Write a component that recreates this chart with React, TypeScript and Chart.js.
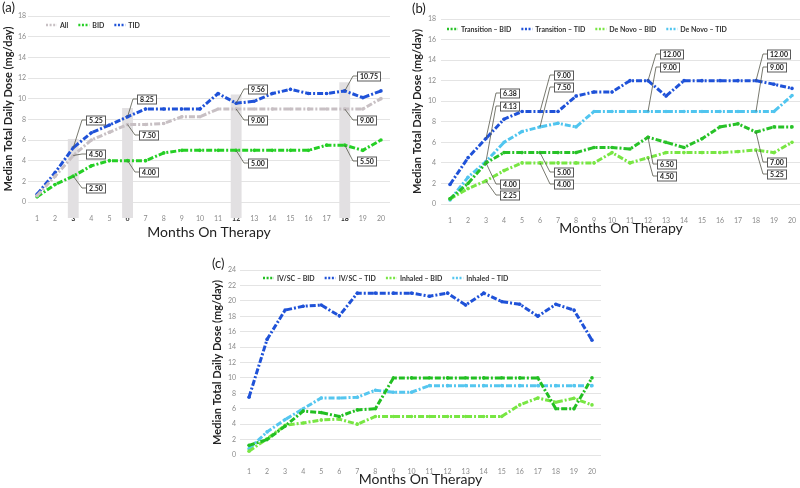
import React, { useEffect, useRef } from 'react';
import { Chart, registerables } from 'chart.js';
Chart.register(...registerables);

// ---------- shared ----------
const months = ['1','2','3','4','5','6','7','8','9','10','11','12','13','14','15','16','17','18','19','20'];
const yTitle = 'Median Total Daily Dose (mg/day)';
const xTitle = 'Months On Therapy';

// ---------- panel (a) ----------
const aLabels = ['All', 'BID', 'TID'];
const aAll = [0.6, 2.5, 4.5, 6.0, 6.75, 7.5, 7.5, 7.6, 8.25, 8.25, 9, 9, 9, 9, 9, 9, 9, 9, 9, 10];
const aBID = [0.5, 1.7, 2.5, 3.5, 4.0, 4.0, 4.0, 4.75, 5, 5, 5, 5, 5, 5, 5, 5, 5.5, 5.5, 5.0, 6.0];
const aTID = [0.75, 2.85, 5.25, 6.7, 7.45, 8.25, 9, 9, 9, 9, 10.5, 9.56, 9.75, 10.5, 10.9, 10.5, 10.5, 10.75, 10.1, 10.75];
const aHighlightMonths = [3, 6, 12, 18];
const aHighlightTops = [6.1, 9.1, 10.4, 11.6];

// ---------- panel (b) ----------
const bLabels = ['Transition \u2013 BID', 'Transition \u2013 TID', 'De Novo \u2013 BID', 'De Novo \u2013 TID'];
const bTransBID = [0.5, 2.0, 4.0, 5.0, 5, 5, 5, 5, 5.5, 5.5, 5.35, 6.5, 6.0, 5.5, 6.35, 7.5, 7.8, 7.0, 7.5, 7.5];
const bTransTID = [1.9, 4.5, 6.38, 8.25, 9, 9, 9, 10.5, 10.9, 10.9, 12, 12, 10.5, 12, 12, 12, 12, 12, 11.65, 11.25];
const bNovoBID = [0.5, 1.5, 2.25, 3.25, 4.0, 4, 4, 4, 4, 5.0, 4.0, 4.5, 5, 5, 5, 5, 5.1, 5.25, 5.0, 6.0];
const bNovoTID = [0.4, 2.6, 4.13, 6.0, 7.05, 7.5, 7.85, 7.5, 9, 9, 9, 9, 9, 9, 9, 9, 9, 9, 9, 10.55];

// ---------- panel (c) ----------
const cLabels = ['IV/SC \u2013 BID', 'IV/SC \u2013 TID', 'Inhaled \u2013 BID', 'Inhaled \u2013 TID'];
const cIvBID = [1.25, 2.0, 3.75, 5.7, 5.5, 5.0, 5.85, 6.0, 10, 10, 10, 10, 10, 10, 10, 10, 10, 6, 6, 10];
const cIvTID = [7.5, 15, 18.8, 19.3, 19.45, 18.05, 21, 21, 21, 21, 20.6, 21, 19.45, 21, 19.9, 19.55, 18.0, 19.55, 18.8, 14.9];
const cInhBID = [0.5, 2.1, 3.85, 4.15, 4.55, 4.65, 4.0, 5, 5, 5, 5, 5, 5, 5, 5, 6.5, 7.4, 6.85, 7.35, 6.5];
const cInhTID = [0.8, 3.0, 4.6, 6.0, 7.4, 7.4, 7.5, 8.4, 8.15, 8.15, 9, 9, 9, 9, 9, 9, 9, 9, 9, 9];

const FONT = 'Lato';
const DASH = [6, 2, 2, 2];

function lineDs(label: string, data: number[], color: string) {
  return {
    type: 'line' as const,
    label,
    data,
    borderColor: color,
    backgroundColor: color,
    borderWidth: 3,
    borderDash: DASH,
    borderCapStyle: 'butt' as const,
    tension: 0,
    pointRadius: 1.8,
    pointBorderWidth: 0,
    pointBackgroundColor: color,
    fill: false,
    order: 0,
  };
}

// callout boxes with leader lines
const calloutPlugin = {
  id: 'callouts',
  afterDraw(chart: any, _args: any, opts: any) {
    const items = (opts && opts.items) || [];
    const ctx = chart.ctx;
    ctx.save();
    ctx.font = `bold 7px ${FONT}`;
    for (const c of items) {
      const el = chart.getDatasetMeta(c.ds).data[c.i];
      if (!el) continue;
      const v = chart.data.datasets[c.ds].data[c.i];
      const txt = Number(v).toFixed(2);
      const px = el.x, py = el.y;
      const w = Math.round(ctx.measureText(txt).width + 5);
      const h = 9;
      const left = Math.round(px + c.dx);
      const cy = Math.round(py + c.dy);
      ctx.strokeStyle = '#55574a';
      ctx.lineWidth = 0.8;
      ctx.setLineDash([]);
      ctx.beginPath();
      ctx.moveTo(px, py);
      ctx.lineTo(left - 4, cy);
      ctx.lineTo(left, cy);
      ctx.stroke();
      ctx.fillStyle = '#ffffff';
      ctx.fillRect(left, cy - h / 2, w, h);
      ctx.strokeStyle = '#5a5a5a';
      ctx.lineWidth = 1;
      ctx.strokeRect(left + 0.5, cy - h / 2 + 0.5, w, h);
      ctx.fillStyle = '#222';
      ctx.textAlign = 'center';
      ctx.textBaseline = 'middle';
      ctx.fillText(txt, left + w / 2 + 0.5, cy + 1);
    }
    ctx.restore();
  },
};

// compact legend drawn inside the plot area
const miniLegendPlugin = {
  id: 'miniLegend',
  afterDraw(chart: any, _args: any, opts: any) {
    const ctx = chart.ctx;
    ctx.save();
    ctx.font = `bold 7px ${FONT}`;
    let x = chart.chartArea.left + opts.dx;
    const y = opts.y;
    chart.data.datasets.forEach((ds: any) => {
      if (ds.type === 'bar') return;
      ctx.strokeStyle = ds.borderColor;
      ctx.lineWidth = 2.5;
      ctx.setLineDash([2, 1.6]);
      ctx.beginPath();
      ctx.moveTo(x, y);
      ctx.lineTo(x + 11, y);
      ctx.stroke();
      ctx.setLineDash([]);
      x += 14;
      ctx.fillStyle = '#333';
      ctx.textAlign = 'left';
      ctx.textBaseline = 'middle';
      ctx.fillText(ds.label, x, y + 0.5);
      x += ctx.measureText(ds.label).width + 10;
    });
    ctx.restore();
  },
};

type Geo = {
  yMax: number; yW: number; yTickPad: number; yTitlePad: number;
  xH: number; xTickPad: number; xTitlePad: number;
  padTop: number; padRight: number; bold?: number[];
};

function makeOptions(g: Geo, plugins: any) {
  return {
    responsive: false,
    animation: false as const,
    layout: { padding: { top: g.padTop, right: g.padRight, left: 0, bottom: 0 } },
    plugins: {
      legend: { display: false },
      tooltip: { enabled: false },
      ...plugins,
    },
    scales: {
      x: {
        type: 'category' as const,
        offset: true,
        z: 1,
        grid: { display: false },
        border: { display: false },
        ticks: {
          autoSkip: false,
          maxRotation: 0,
          padding: g.xTickPad,
          font: (c: any) => ({
            family: FONT,
            size: 7,
            weight: g.bold && g.bold.includes(c.index + 1) ? 'bold' : 'normal',
          }),
          color: (c: any) => (g.bold && g.bold.includes(c.index + 1) ? '#333' : '#8a8a8a'),
        },
        title: {
          display: true,
          text: xTitle,
          color: '#222',
          font: { family: FONT, size: 14 },
          padding: { top: 0, bottom: g.xTitlePad },
        },
        afterFit: (s: any) => { s.height = g.xH; },
      },
      y: {
        min: 0,
        max: g.yMax,
        grid: { color: '#e4e4e4', lineWidth: 1, drawTicks: false },
        border: { display: false },
        ticks: {
          stepSize: 2,
          padding: g.yTickPad,
          font: { family: FONT, size: 7 },
          color: '#8a8a8a',
        },
        title: {
          display: true,
          text: yTitle,
          color: '#222',
          font: { family: FONT, size: 11, weight: 'bold' as const },
          padding: { top: g.yTitlePad, bottom: 0 },
        },
        afterFit: (s: any) => { s.width = g.yW; },
      },
    },
  };
}

function configA() {
  const highlight = months.map((_, i) => {
    const k = aHighlightMonths.indexOf(i + 1);
    return k >= 0 ? [-1.55, aHighlightTops[k]] : null;
  });
  return {
    type: 'line' as const,
    data: {
      labels: months,
      datasets: [
        lineDs(aLabels[0], aAll, '#c8c0c4'),
        lineDs(aLabels[1], aBID, '#25cf25'),
        lineDs(aLabels[2], aTID, '#1f52d8'),
        {
          type: 'bar' as const,
          label: 'highlight',
          data: highlight as any,
          backgroundColor: '#e2e0e2',
          borderWidth: 0,
          barPercentage: 0.6,
          categoryPercentage: 1,
          clip: false as any,
          order: 5,
        },
      ],
    },
    options: makeOptions(
      { yMax: 18, yW: 28, yTickPad: 2, yTitlePad: 1.4, xH: 43, xTickPad: 5, xTitlePad: 4.6, padTop: 16, padRight: 10, bold: aHighlightMonths },
      {
        miniLegend: { dx: 18, y: 25 },
        callouts: {
          items: [
            { ds: 2, i: 2, dx: 13, dy: -28 }, { ds: 0, i: 2, dx: 13, dy: -2 }, { ds: 1, i: 2, dx: 13, dy: 12 },
            { ds: 2, i: 5, dx: 9, dy: -18 }, { ds: 0, i: 5, dx: 11, dy: 10.5 }, { ds: 1, i: 5, dx: 11, dy: 11 },
            { ds: 2, i: 11, dx: 12, dy: -14 }, { ds: 0, i: 11, dx: 12, dy: 11 }, { ds: 1, i: 11, dx: 12, dy: 12.5 },
            { ds: 2, i: 17, dx: 12, dy: -15 }, { ds: 0, i: 17, dx: 12, dy: 11 }, { ds: 1, i: 17, dx: 12, dy: 16 },
          ],
        },
      }
    ),
    plugins: [calloutPlugin, miniLegendPlugin],
  };
}

function configB() {
  return {
    type: 'line' as const,
    data: {
      labels: months,
      datasets: [
        lineDs(bLabels[0], bTransBID, '#27c227'),
        lineDs(bLabels[1], bTransTID, '#1f52d8'),
        lineDs(bLabels[2], bNovoBID, '#78e643'),
        lineDs(bLabels[3], bNovoTID, '#50c5ef'),
      ],
    },
    options: makeOptions(
      { yMax: 18, yW: 41, yTickPad: 5, yTitlePad: 10.4, xH: 41, xTickPad: 5, xTitlePad: 8.6, padTop: 19, padRight: 3 },
      {
        miniLegend: { dx: 6, y: 29 },
        callouts: {
          items: [
            { ds: 1, i: 2, dx: 14, dy: -45 }, { ds: 3, i: 2, dx: 14, dy: -55.6 }, { ds: 0, i: 2, dx: 14, dy: 21 }, { ds: 2, i: 2, dx: 14, dy: 14 },
            { ds: 1, i: 5, dx: 14, dy: -36.7 }, { ds: 3, i: 5, dx: 14, dy: -40 }, { ds: 0, i: 5, dx: 14, dy: 19.3 }, { ds: 2, i: 5, dx: 14, dy: 21 },
            { ds: 1, i: 11, dx: 11.5, dy: -27 }, { ds: 3, i: 11, dx: 11.5, dy: -45 }, { ds: 0, i: 11, dx: 8.5, dy: 26.7 }, { ds: 2, i: 11, dx: 8.5, dy: 18 },
            { ds: 1, i: 17, dx: 11, dy: -27 }, { ds: 3, i: 17, dx: 11, dy: -45 }, { ds: 0, i: 17, dx: 11, dy: 30 }, { ds: 2, i: 17, dx: 11, dy: 24 },
          ],
        },
      }
    ),
    plugins: [calloutPlugin, miniLegendPlugin],
  };
}

function configC() {
  return {
    type: 'line' as const,
    data: {
      labels: months,
      datasets: [
        lineDs(cLabels[0], cIvBID, '#22bf22'),
        lineDs(cLabels[1], cIvTID, '#1f52d8'),
        lineDs(cLabels[2], cInhBID, '#78e643'),
        lineDs(cLabels[3], cInhTID, '#55c6ef'),
      ],
    },
    options: makeOptions(
      { yMax: 24, yW: 40, yTickPad: 4, yTitlePad: 10.4, xH: 35, xTickPad: 5, xTitlePad: 2.6, padTop: 25, padRight: 2 },
      { miniLegend: { dx: 23, y: 33 } }
    ),
    plugins: [miniLegendPlugin],
  };
}

function Panel({ make, left, top, w, h }: { make: () => any; left: number; top: number; w: number; h: number }) {
  const ref = useRef<HTMLCanvasElement>(null);
  useEffect(() => {
    const chart = new Chart(ref.current as HTMLCanvasElement, make());
    return () => chart.destroy();
  }, []);
  return (
    <canvas
      ref={ref}
      width={w}
      height={h}
      style={{ position: 'absolute', left, top, width: w, height: h, display: 'block' }}
    />
  );
}

const tagStyle: React.CSSProperties = {
  position: 'absolute',
  fontFamily: FONT,
  fontSize: 13,
  lineHeight: '13px',
  color: '#222',
};

export default function App() {
  return (
    <div style={{ position: 'absolute', left: 0, top: 0, width: 800, height: 488, overflow: 'hidden', background: '#fff' }}>
      <Panel make={configA} left={0} top={0} w={400} h={245} />
      <Panel make={configB} left={400} top={0} w={405} h={245} />
      <Panel make={configC} left={200} top={245} w={405} h={245} />
      <div style={{ ...tagStyle, left: 2, top: 1 }}>(a)</div>
      <div style={{ ...tagStyle, left: 412, top: 2 }}>(b)</div>
      <div style={{ ...tagStyle, left: 212, top: 257 }}>(c)</div>
    </div>
  );
}
